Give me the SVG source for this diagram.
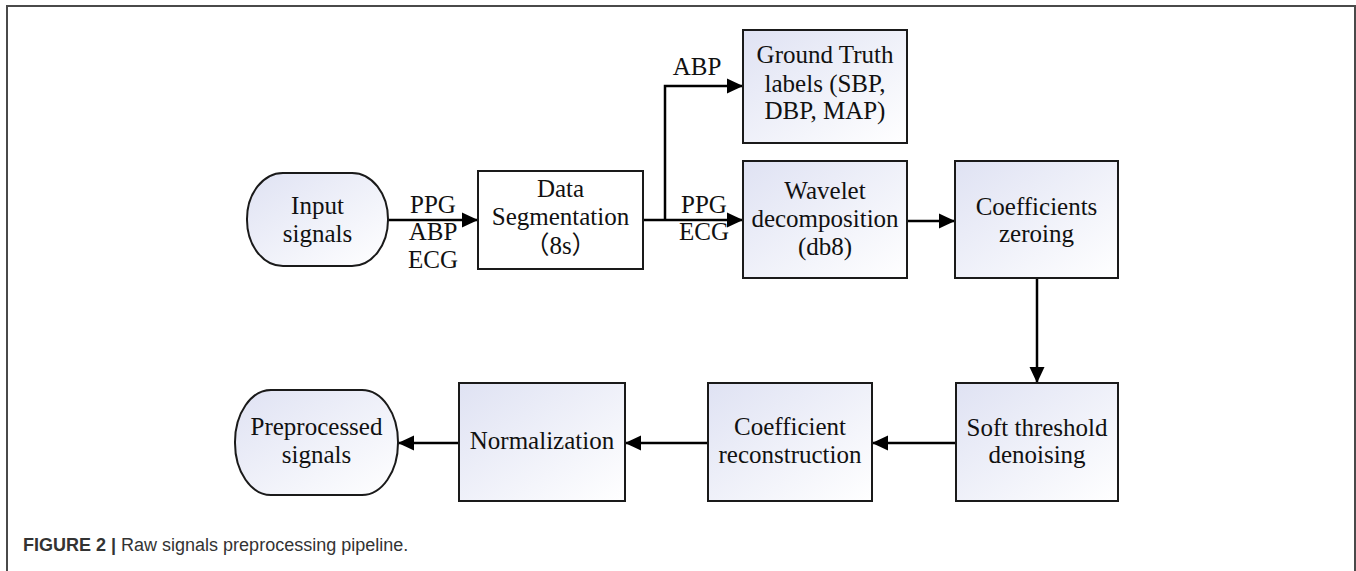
<svg xmlns="http://www.w3.org/2000/svg" width="1356" height="571" viewBox="0 0 1356 571">
  <style>
    .lbl { font-family: "Liberation Serif", "Noto Sans CJK SC", serif; font-size: 25px; fill: #111; text-anchor: middle; }
    .box { stroke: #1a1a1a; stroke-width: 2; fill: url(#boxfill); }
    .plain { stroke: #1a1a1a; stroke-width: 2; fill: #ffffff; }
    .wire { stroke: #000; stroke-width: 2.5; fill: none; marker-end: url(#head); }
    .cap { font-family: "Liberation Sans", Arial, sans-serif; font-size: 18px; fill: #333; }
  </style>
  <defs>
    <linearGradient id="boxfill" x1="0" y1="0" x2="1" y2="1">
      <stop offset="0" stop-color="#dfe2f3"/>
      <stop offset="1" stop-color="#ffffff"/>
    </linearGradient>
    <marker id="head" markerUnits="userSpaceOnUse" markerWidth="18" markerHeight="18" refX="16" refY="8.5" orient="auto">
      <path d="M0,1 L16,8.5 L0,16 z" fill="#000"/>
    </marker>
  </defs>

  <rect width="1356" height="571" fill="#ffffff"/>
  <!-- figure frame -->
  <path d="M7,571 V6 H1355 V571" fill="none" stroke="#4a4a4a" stroke-width="2"/>

  <!-- connectors -->
  <g id="connectors">
    <line class="wire" x1="388" y1="220" x2="478" y2="220"/>
    <line class="wire" x1="643" y1="220" x2="743" y2="220"/>
    <path class="wire" d="M665,220 V86 H743"/>
    <line class="wire" x1="907" y1="221" x2="955" y2="221"/>
    <line class="wire" x1="1037" y1="278" x2="1037" y2="383"/>
    <line class="wire" x1="956" y1="443" x2="872" y2="443"/>
    <line class="wire" x1="708" y1="443" x2="625" y2="443"/>
    <line class="wire" x1="459" y1="443" x2="398" y2="443"/>
    <text class="lbl" x="433" y="213">PPG</text>
    <text class="lbl" x="433" y="240">ABP</text>
    <text class="lbl" x="433" y="268">ECG</text>
    <text class="lbl" x="697" y="75">ABP</text>
    <text class="lbl" x="704" y="213">PPG</text>
    <text class="lbl" x="704" y="240">ECG</text>
  </g>

  <g id="input-signals">
    <rect class="box" x="247" y="173" width="141" height="93" rx="36" ry="46"/>
    <text class="lbl" x="317.5" y="214">Input</text>
    <text class="lbl" x="317.5" y="242">signals</text>
  </g>

  <g id="data-segmentation">
    <rect class="plain" x="478" y="171" width="165" height="98"/>
    <text class="lbl" x="560.5" y="197">Data</text>
    <text class="lbl" x="560.5" y="225">Segmentation</text>
    <text class="lbl" x="560.5" y="254">（8s）</text>
  </g>

  <g id="ground-truth">
    <rect class="box" x="743" y="30" width="164" height="113"/>
    <text class="lbl" x="825" y="63">Ground Truth</text>
    <text class="lbl" x="825" y="92">labels (SBP,</text>
    <text class="lbl" x="825" y="119">DBP, MAP)</text>
  </g>

  <g id="wavelet-decomposition">
    <rect class="box" x="743" y="161" width="164" height="117"/>
    <text class="lbl" x="825" y="199">Wavelet</text>
    <text class="lbl" x="825" y="227">decomposition</text>
    <text class="lbl" x="825" y="255">(db8)</text>
  </g>

  <g id="coefficients-zeroing">
    <rect class="box" x="955" y="161" width="163" height="117"/>
    <text class="lbl" x="1036.5" y="215">Coefficients</text>
    <text class="lbl" x="1036.5" y="242">zeroing</text>
  </g>

  <g id="soft-threshold">
    <rect class="box" x="956" y="383" width="162" height="118"/>
    <text class="lbl" x="1037" y="436">Soft threshold</text>
    <text class="lbl" x="1037" y="463">denoising</text>
  </g>

  <g id="coefficient-reconstruction">
    <rect class="box" x="708" y="383" width="164" height="118"/>
    <text class="lbl" x="790" y="435">Coefficient</text>
    <text class="lbl" x="790" y="463">reconstruction</text>
  </g>

  <g id="normalization">
    <rect class="box" x="459" y="383" width="166" height="118"/>
    <text class="lbl" x="542" y="449">Normalization</text>
  </g>

  <g id="preprocessed-signals">
    <rect class="box" x="235" y="390" width="163" height="105" rx="36" ry="52"/>
    <text class="lbl" x="316.5" y="435">Preprocessed</text>
    <text class="lbl" x="316.5" y="463">signals</text>
  </g>

  <!-- caption -->
  <text class="cap" x="23" y="551"><tspan font-weight="bold">FIGURE 2 |</tspan> Raw signals preprocessing pipeline.</text>
</svg>
